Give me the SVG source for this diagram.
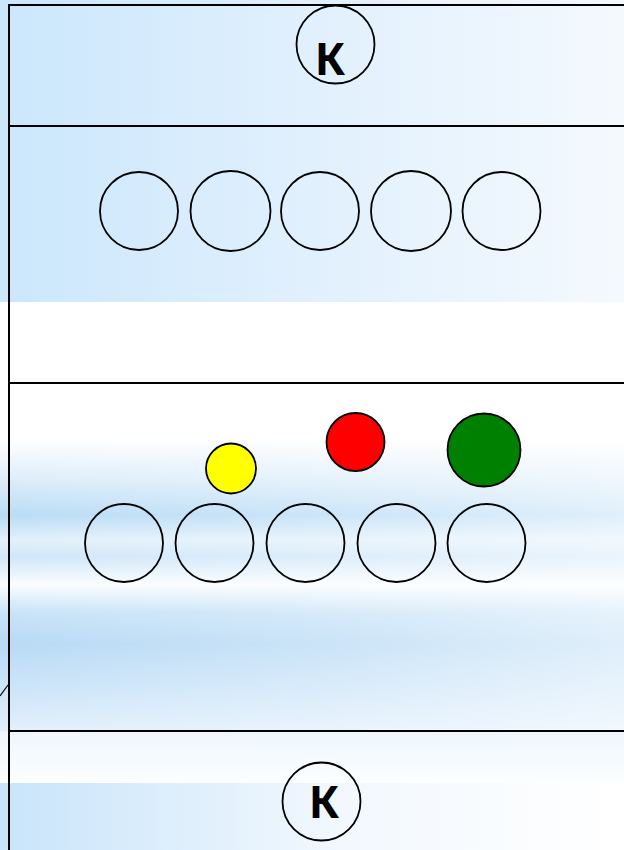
<svg xmlns="http://www.w3.org/2000/svg" width="624" height="850" viewBox="0 0 624 850">
<defs>
<linearGradient id="hblue" x1="0" y1="0" x2="1" y2="0">
<stop offset="0" stop-color="#cbe7fc"/>
<stop offset="0.5" stop-color="#e1f0fd"/>
<stop offset="1" stop-color="#f4f9fe"/>
</linearGradient>
<linearGradient id="hblue2" x1="0" y1="0" x2="1" y2="0">
<stop offset="0" stop-color="#c9e4fa"/>
<stop offset="0.55" stop-color="#f2f8fe"/>
<stop offset="1" stop-color="#ffffff"/>
</linearGradient>
<linearGradient id="vstripe" x1="0" y1="0" x2="0" y2="1">
<stop offset="0" stop-color="#ffffff"/>
<stop offset="0.16" stop-color="#ffffff"/>
<stop offset="0.28" stop-color="#dcedfa"/>
<stop offset="0.38" stop-color="#b9dcf6"/>
<stop offset="0.45" stop-color="#e2f0fb"/>
<stop offset="0.5" stop-color="#d0e7f9"/>
<stop offset="0.58" stop-color="#fafdff"/>
<stop offset="0.66" stop-color="#c8e3f8"/>
<stop offset="0.75" stop-color="#b8daf5"/>
<stop offset="0.88" stop-color="#cde5f9"/>
<stop offset="1" stop-color="#e2f0fc"/>
</linearGradient>
<linearGradient id="hfade" x1="0" y1="0" x2="1" y2="0">
<stop offset="0" stop-color="#ffffff" stop-opacity="0"/>
<stop offset="0.5" stop-color="#ffffff" stop-opacity="0.25"/>
<stop offset="1" stop-color="#ffffff" stop-opacity="0.55"/>
</linearGradient>
<linearGradient id="vwhite" x1="0" y1="0" x2="0" y2="1">
<stop offset="0" stop-color="#eef6fd"/>
<stop offset="1" stop-color="#fcfeff"/>
</linearGradient>
</defs>
<style>
.ln{stroke:#000;stroke-width:2;fill:none}
.c{fill:none;stroke:#000;stroke-width:1.8}
.k{font-family:"Noto Sans","Open Sans","Liberation Sans",sans-serif;font-weight:bold;font-size:44px;fill:#000;text-anchor:middle}
</style>
<g id="background">
<rect x="0" y="0" width="624" height="850" fill="#ffffff"/>
<rect x="0" y="0" width="624" height="302" fill="url(#hblue)"/>
<rect x="0" y="383" width="624" height="348" fill="url(#vstripe)"/>
<rect x="0" y="383" width="624" height="348" fill="url(#hfade)"/>
<rect x="0" y="731" width="624" height="52" fill="url(#vwhite)"/>
<rect x="0" y="783" width="624" height="67" fill="url(#hblue2)"/>
</g>
<g id="connectors">
<line class="ln" x1="8" y1="5" x2="624" y2="5"/>
<line class="ln" x1="9" y1="4" x2="9" y2="850"/>
<line class="ln" x1="9" y1="126" x2="624" y2="126"/>
<line class="ln" x1="9" y1="383" x2="624" y2="383" stroke="#222"/>
<line class="ln" x1="9" y1="731" x2="624" y2="731"/>
<line x1="0" y1="696" x2="8" y2="685" stroke="#000" stroke-width="1.2"/>
</g>
<g id="k-top">
<circle class="c" cx="335.5" cy="44.5" r="39"/>
<text class="k" x="330" y="75">К</text>
</g>
<g id="row1">
<circle class="c" cx="139" cy="211" r="39"/>
<circle class="c" cx="230.5" cy="211" r="40"/>
<circle class="c" cx="320" cy="211" r="39"/>
<circle class="c" cx="411" cy="211" r="40"/>
<circle class="c" cx="501.5" cy="211" r="39"/>
</g>
<g id="row2">
<circle class="c" cx="124" cy="543" r="39"/>
<circle class="c" cx="214.5" cy="543" r="39"/>
<circle class="c" cx="305.5" cy="543" r="39"/>
<circle class="c" cx="396.5" cy="543" r="39"/>
<circle class="c" cx="486.5" cy="543" r="39"/>
</g>
<g id="yellow"><circle cx="231" cy="468.5" r="25" fill="#ffff00" stroke="#000" stroke-width="1.8"/></g>
<g id="red"><circle cx="355.5" cy="442" r="29" fill="#ff0000" stroke="#000" stroke-width="1.8"/></g>
<g id="green"><circle cx="484" cy="450" r="36.5" fill="#008000" stroke="#000" stroke-width="1.8"/></g>
<g id="k-bottom">
<circle class="c" cx="321.5" cy="801.5" r="39"/>
<text class="k" x="324" y="818">К</text>
</g>
</svg>
